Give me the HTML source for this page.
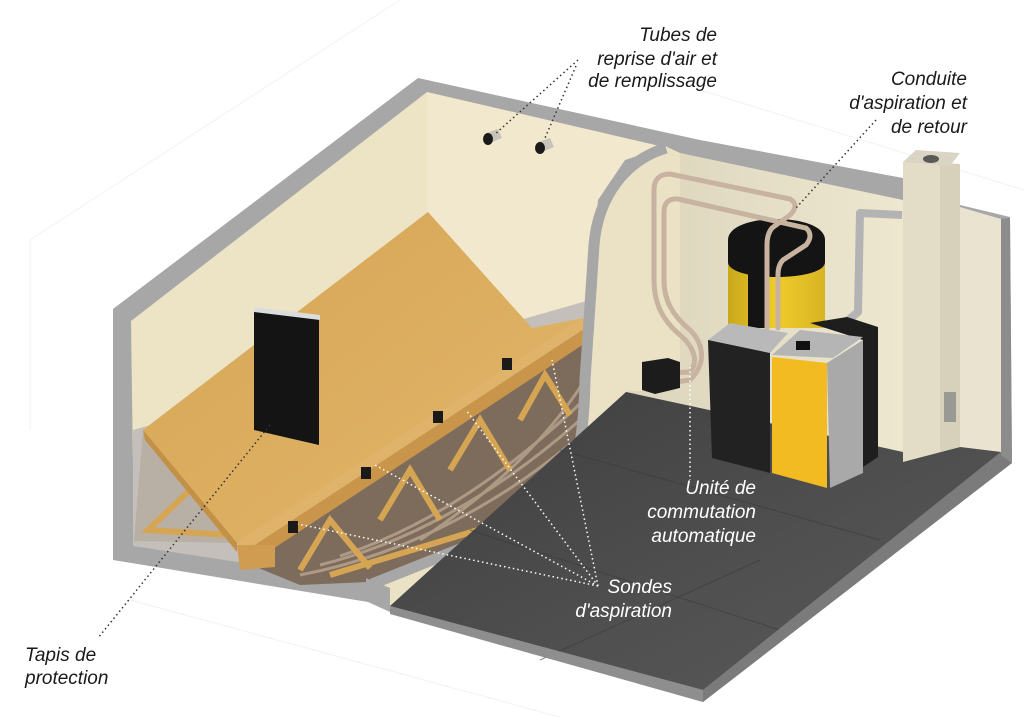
<!DOCTYPE html>
<html><head><meta charset="utf-8"><style>
html,body{margin:0;padding:0;background:#fff;}
svg{display:block;}
text{font-family:"Liberation Sans",sans-serif;font-style:italic;font-size:19px;}
</style></head><body>
<svg width="1024" height="717" viewBox="0 0 1024 717" xmlns="http://www.w3.org/2000/svg">
<defs>
<linearGradient id="bw" x1="0" y1="0" x2="1" y2="0"><stop offset="0" stop-color="#dcd5bc"/><stop offset="1" stop-color="#eee7d0"/></linearGradient>
<linearGradient id="fl" x1="0" y1="0" x2="1" y2="1"><stop offset="0" stop-color="#3e3e3e"/><stop offset="0.6" stop-color="#505050"/><stop offset="1" stop-color="#5a5a5a"/></linearGradient>
<linearGradient id="tk" x1="0" y1="0" x2="1" y2="0"><stop offset="0" stop-color="#c9a81c"/><stop offset="0.5" stop-color="#f0cb2a"/><stop offset="1" stop-color="#d8b424"/></linearGradient>
<linearGradient id="wd" x1="0" y1="0" x2="1" y2="1"><stop offset="0" stop-color="#d6a553"/><stop offset="1" stop-color="#e2b66c"/></linearGradient>
</defs>
<g stroke="#f2f2f2" stroke-width="1" fill="none">
<line x1="30" y1="240" x2="400" y2="0"/><line x1="30" y1="430" x2="30" y2="240"/>
<line x1="700" y1="90" x2="1024" y2="190"/>
<line x1="130" y1="600" x2="560" y2="717"/>
</g>
<polygon points="113,309 418,78 700,140 903,178 960,205 1010,217 1012,463 703,702 390,612 368,602 113,560" fill="#a7a7a7"/>
<polygon points="131,321 427,92 427,213 143,430 134,541" fill="#ede3c5"/>
<polygon points="427,92 664,147 625,160 598,200 593,250 585,360 540,340 427,213" fill="#f1e8cd"/>
<polygon points="133,430 590,300 590,430 368,582 133,546" fill="#c4bfba"/>
<polygon points="244,562 590,330 592,440 560,505 368,582 300,585" fill="#7d6c5b"/>
<g stroke="#b9a58f" stroke-width="3" fill="none" opacity="0.8">
<path d="M300,575 C380,560 480,520 575,440"/><path d="M320,565 C400,545 490,500 580,420"/><path d="M340,556 C420,530 500,480 584,400"/><path d="M420,540 C480,500 540,450 585,380"/>
</g>
<g stroke="#d6a553" stroke-width="6" fill="none">
<path d="M300,570 L330,520 L370,568"/><path d="M380,520 L410,470 L440,520"/><path d="M450,470 L480,420 L510,470"/><path d="M520,420 L545,375 L570,415"/>
<path d="M330,575 L560,505"/>
</g>
<polygon points="143,430 237,543 134,541" fill="#b8b0a4"/>
<g stroke="#d6a553" stroke-width="6" fill="none"><path d="M148,530 L190,490 L230,535 Z"/><path d="M150,440 L190,490"/></g>
<polygon points="428,212 532,328 583,318 237,543 143,430" fill="url(#wd)"/>
<polygon points="143,430 237,543 237,552 145,440" fill="#c39048"/>
<polygon points="237,543 583,318 590,325 244,552" fill="#e0b36a"/>
<polygon points="244,552 590,325 590,340 244,568" fill="#c8954a"/>
<polygon points="237,545 275,545 275,567 240,570" fill="#cf9c52"/>
<path d="M368,582 L540,515 C575,495 583,440 584,380 L593,245 C597,195 625,160 663,145 L680,153 L680,390 L626,392 C600,440 560,480 390,606 Z" fill="#ebe2c6"/>
<path d="M372,584 L540,517 C576,497 584,440 585,380 L594,245 C598,196 626,160 666,148" stroke="#a7a7a7" stroke-width="11" fill="none"/>
<polygon points="366,578 390,588 390,608 366,600" fill="#a7a7a7"/>
<polygon points="680,153 903,200 903,452 626,392 680,390" fill="url(#bw)"/>
<polygon points="960,207 1001,219 1001,452 960,447" fill="#e9e3cf"/>
<polygon points="390,606 626,392 903,452 960,447 1001,452 703,690" fill="url(#fl)"/>
<g stroke="#3a3a3a" stroke-width="1" opacity="0.6"><line x1="470" y1="530" x2="780" y2="630"/><line x1="560" y1="450" x2="880" y2="540"/><line x1="540" y1="660" x2="760" y2="560"/></g>
<polygon points="390,606 703,690 703,702 390,614" fill="#8e8e8e"/>
<polygon points="703,690 1001,452 1012,463 703,702" fill="#7b7b7b"/>
<polygon points="1001,219 1010,218 1012,463 1001,455" fill="#8c8c8c"/>
<polygon points="903,162 960,164 960,447 903,462" fill="#e3ddc8"/>
<polygon points="940,163 960,164 960,447 940,452" fill="#d7d1bb"/>
<polygon points="903,162 916,150 960,153 950,166" fill="#d9d4c3"/>
<ellipse cx="931" cy="159" rx="8" ry="4" fill="#5a5a5a"/>
<rect x="944" y="392" width="12" height="30" fill="#9a9a94"/>
<path d="M902,215 L860,213 L858,312 L846,322" stroke="#b3b3b3" stroke-width="8" fill="none" stroke-linejoin="round"/>
<rect x="728" y="240" width="97" height="88" fill="url(#tk)"/>
<path d="M728,240 C728,212 825,212 825,240 L825,262 C825,282 728,282 728,262 Z" fill="#141414"/>
<rect x="748" y="262" width="19" height="66" fill="#141414"/>
<g stroke="#c7b3a0" stroke-width="5" fill="none" stroke-linecap="round">
<path d="M662,373 L690,372 C700,360 692,345 680,335 C660,318 654,300 654,280 L654,190 Q654,174 670,174 L790,199 Q800,205 790,215 L772,228 Q767,234 767,245 L767,328"/>
<path d="M668,383 L690,380 C710,360 700,340 690,330 C672,315 664,300 664,280 L664,212 Q664,198 678,199 L806,228 Q814,235 806,245 L783,260 Q778,265 778,275 L778,328"/>
</g>
<polygon points="642,362 668,358 680,362 680,388 655,394 642,390" fill="#1c1c1c"/>
<polygon points="708,340 730,323 788,333 770,353" fill="#b9b9b9"/>
<polygon points="708,340 770,353 770,473 712,458" fill="#222"/>
<polygon points="810,323 847,317 878,327 878,457 863,467 863,340" fill="#1e1e1e"/>
<polygon points="772,355 800,330 863,337 833,358" fill="#b5b5b5"/>
<polygon points="772,357 827,363 827,488 772,473" fill="#f2bb22"/>
<polygon points="827,363 863,340 863,473 830,488" fill="#a9a9a9"/>
<rect x="796" y="341" width="14" height="9" fill="#111"/>
<polygon points="254,310 319,318 319,445 254,430" fill="#141414"/>
<polygon points="254,307 320,315 320,320 254,312" fill="#dcdcdc"/>
<g fill="#1a1a1a"><rect x="502" y="358" width="10" height="12"/><rect x="433" y="411" width="10" height="12"/><rect x="361" y="467" width="10" height="12"/><rect x="288" y="521" width="10" height="12"/></g>
<g><path d="M486,133 L498,129 L502,138 L490,143 Z" fill="#c9c4ba"/><ellipse cx="488" cy="139" rx="5" ry="6" fill="#1a1a1a"/>
<path d="M538,142 L550,138 L554,147 L542,152 Z" fill="#c9c4ba"/><ellipse cx="540" cy="148" rx="5" ry="6" fill="#1a1a1a"/></g>
<g stroke="#333" stroke-width="1.5" stroke-dasharray="1.5,3" fill="none">
<line x1="578" y1="60" x2="494" y2="135"/><line x1="576" y1="66" x2="545" y2="138"/>
<line x1="876" y1="120" x2="796" y2="208"/>
<line x1="270" y1="425" x2="98" y2="638"/>
</g>
<g stroke="#fff" stroke-width="1.5" stroke-dasharray="1.5,3" fill="none">
<line x1="690" y1="367" x2="690" y2="480"/>
<line x1="598" y1="586" x2="552" y2="360"/><line x1="598" y1="586" x2="466" y2="410"/><line x1="598" y1="586" x2="373" y2="464"/><line x1="598" y1="586" x2="298" y2="524"/>
</g>
<g fill="#1a1a1a" text-anchor="end">
<text x="717" y="41">Tubes de</text><text x="717" y="65">reprise d'air et</text><text x="717" y="87">de remplissage</text>
<text x="967" y="85">Conduite</text><text x="967" y="109">d'aspiration et</text><text x="967" y="133">de retour</text>
</g>
<g fill="#1a1a1a"><text x="25" y="661">Tapis de</text><text x="25" y="684">protection</text></g>
<g fill="#fff" text-anchor="end">
<text x="756" y="494">Unité de</text><text x="756" y="518">commutation</text><text x="756" y="542">automatique</text>
<text x="672" y="593">Sondes</text><text x="672" y="617">d'aspiration</text>
</g>
</svg>
</body></html>
